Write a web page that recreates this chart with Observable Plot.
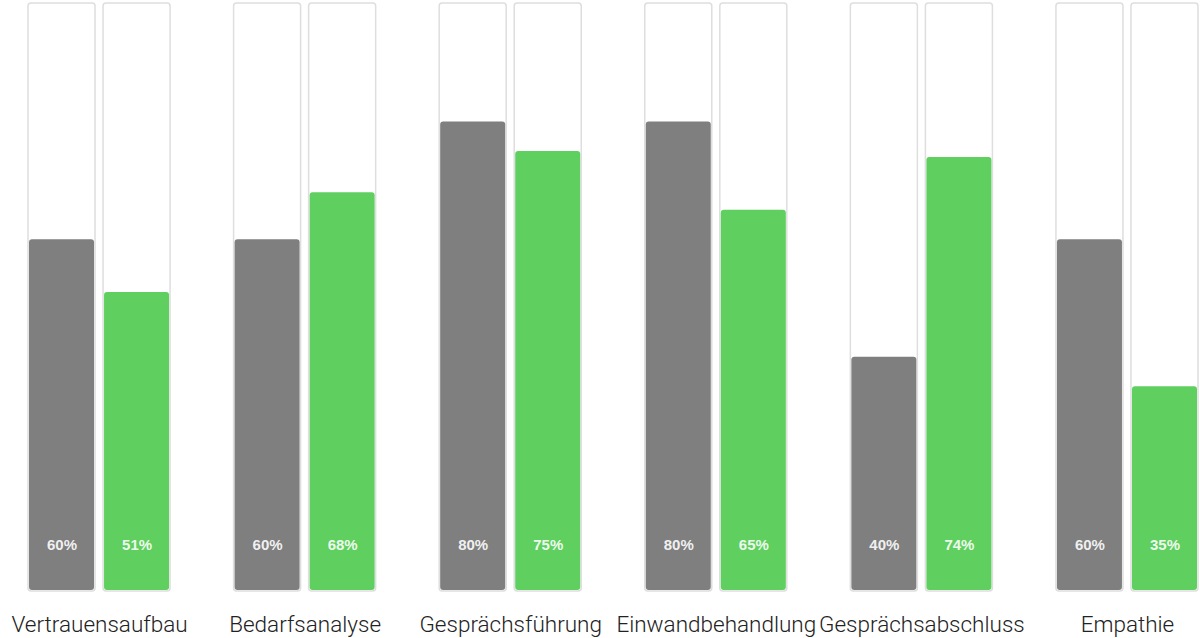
<!DOCTYPE html>
<html>
<head>
<meta charset="utf-8">
<script src="https://cdn.jsdelivr.net/npm/d3@7"></script>
<script src="https://cdn.jsdelivr.net/npm/@observablehq/plot@0.6"></script>
<style>
  html, body { margin: 0; padding: 0; background: #fff; }
  #chart svg { display: block; }
</style>
</head>
<body>
<div id="chart"></div>
<script>
const categories = ["Vertrauensaufbau", "Bedarfsanalyse", "Gesprächsführung", "Einwandbehandlung", "Gesprächsabschluss", "Empathie"];
const seriesNames = ["Grau", "Grün"];
const grayValues = [60, 60, 80, 80, 40, 60];
const greenValues = [51, 68, 75, 65, 74, 35];
const seriesColors = ["#7f7f7f", "#5fcf5f"];

const table = categories.flatMap((c, i) => [
  {category: c, series: seriesNames[0], value: grayValues[i]},
  {category: c, series: seriesNames[1], value: greenValues[i]}
]);

const chart = Plot.plot({
  width: 1200,
  height: 638,
  marginTop: 3,
  marginBottom: 47,
  marginLeft: 28,
  marginRight: 2,
  style: {fontFamily: "Roboto, 'Liberation Sans', sans-serif", background: "#fff"},
  fx: {domain: categories, paddingInner: 0.309, paddingOuter: 0, round: false, label: null},
  x: {domain: seriesNames, paddingInner: 0.107, paddingOuter: 0, round: false, axis: null},
  y: {domain: [0, 100], axis: null},
  color: {domain: seriesNames, range: seriesColors},
  marks: [
    Plot.barY(table, {fx: "category", x: "series", y: 100, fill: "#fff", stroke: "#dedede", strokeWidth: 1.5, rx: 3}),
    Plot.barY(table, {fx: "category", x: "series", y: "value", fill: "series", inset: 1, rx: 3}),
    Plot.text(table, {fx: "category", x: "series", y: 0, text: d => d.value + "%", dy: -46, fill: "#fff", fillOpacity: 0.9, fontSize: 15, fontWeight: "bold", fontFamily: "'Liberation Sans', Arial, sans-serif"}),
    Plot.axisFx({anchor: "bottom", tickSize: 0, tickPadding: 25, fontSize: 22.5, fontWeight: 300, fill: "#222", label: null})
  ]
});
document.getElementById("chart").appendChild(chart);
</script>
</body>
</html>
